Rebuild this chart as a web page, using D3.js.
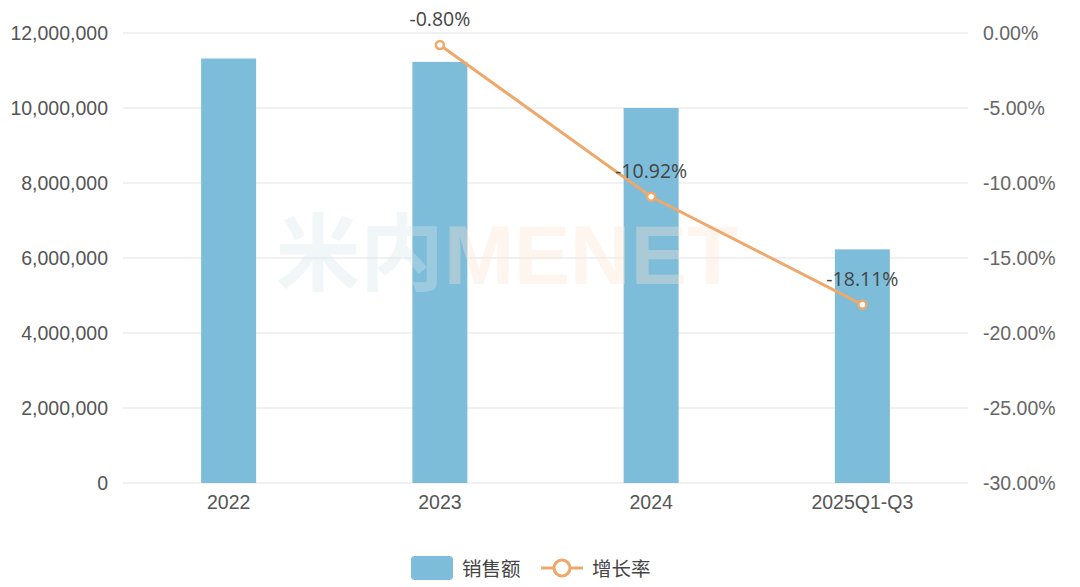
<!DOCTYPE html>
<html>
<head>
<meta charset="utf-8">
<script src="https://cdn.jsdelivr.net/npm/d3@7"></script>
<style>
	body { margin: 0; background: #fff; }
	svg { display: block; font-family: "Open Sans", "Noto Sans", "Noto Sans CJK SC", sans-serif; }
</style>
</head>
<body>
<svg width="1080" height="587"></svg>
<script>
var categories = ["2022", "2023", "2024", "2025Q1-Q3"];
var sales = [11320000, 11230000, 10000000, 6230000];
var growth = [null, -0.80, -10.92, -18.11];
var leftTicks = [0, 2000000, 4000000, 6000000, 8000000, 10000000, 12000000];
var rightTicks = [0, -5, -10, -15, -20, -25, -30];

var svg = d3.select("svg"),
	width = +svg.attr("width"),
	height = +svg.attr("height");

var pLeft = 123, pRight = 968, pTop = 33, pBottom = 483;
var fs = "19.5px";

var x = d3.scaleBand().domain(categories).range([pLeft, pRight]);
var yL = d3.scaleLinear().domain([0, 12000000]).range([pBottom, pTop]);
var yR = d3.scaleLinear().domain([-30, 0]).range([pBottom, pTop]);

var barColor = "#7dbdda",
	lineColor = "#eea86b",
	textColor = "#555";

// grid lines
svg.append("g")
	.selectAll("line")
	.data(leftTicks)
	.enter().append("line")
	.attr("x1", pLeft)
	.attr("x2", pRight)
	.attr("y1", function(d){ return yL(d); })
	.attr("y2", function(d){ return yL(d); })
	.style("stroke", "#ececec")
	.style("stroke-width", 1.5);

// left axis
var axisL = svg.append("g")
	.attr("transform", "translate(" + (pLeft - 15) + ",0)")
	.call(d3.axisLeft(yL).tickValues(leftTicks).tickSize(0).tickPadding(0).tickFormat(d3.format(",")));
axisL.select(".domain").remove();
axisL.selectAll("text")
	.style("font-size", fs)
	.style("fill", textColor)
	.style("font-family", "inherit");

// right axis
var axisR = svg.append("g")
	.attr("transform", "translate(" + (pRight + 15) + ",0)")
	.call(d3.axisRight(yR).tickValues(rightTicks).tickSize(0).tickPadding(0).tickFormat(function(d){ return d.toFixed(2) + "%"; }));
axisR.select(".domain").remove();
axisR.selectAll("text")
	.style("font-size", fs)
	.style("fill", "#666")
	.style("font-family", "inherit");

// bottom axis labels
var axisB = svg.append("g")
	.attr("transform", "translate(0," + pBottom + ")")
	.call(d3.axisBottom(x).tickSize(0).tickPadding(12));
axisB.select(".domain").remove();
axisB.selectAll("text")
	.style("font-size", fs)
	.style("fill", textColor)
	.style("font-family", "inherit");

// bars
var bw = 55;
svg.append("g")
	.selectAll("rect")
	.data(sales)
	.enter().append("rect")
	.attr("x", function(d, i){ return x(categories[i]) + x.bandwidth() / 2 - bw / 2; })
	.attr("y", function(d){ return yL(d); })
	.attr("width", bw)
	.attr("height", function(d){ return pBottom - yL(d); })
	.style("fill", barColor);

// watermark (faint, over the bars)
var wm = svg.append("text")
	.attr("x", 276)
	.attr("y", 284)
	.style("font-size", "84px")
	.style("font-weight", "bold")
	.style("opacity", 0.35)
	.style("font-family", "'Liberation Sans', 'Noto Sans CJK SC', sans-serif");
wm.append("tspan").text("米内").style("fill", "#d8e6ec");
wm.append("tspan").text("MENET").style("fill", "#fbe3d0");

// line
var pts = growth.map(function(d, i){ return {v: d, c: categories[i]}; }).filter(function(d){ return d.v !== null; });
var line = d3.line()
	.x(function(d){ return x(d.c) + x.bandwidth() / 2; })
	.y(function(d){ return yR(d.v); });

svg.append("path")
	.datum(pts)
	.attr("d", line)
	.style("fill", "none")
	.style("stroke", lineColor)
	.style("stroke-width", 3);

svg.append("g")
	.selectAll("circle")
	.data(pts)
	.enter().append("circle")
	.attr("cx", function(d){ return x(d.c) + x.bandwidth() / 2; })
	.attr("cy", function(d){ return yR(d.v); })
	.attr("r", 4)
	.style("fill", "#fff")
	.style("stroke", lineColor)
	.style("stroke-width", 2.5);

svg.append("g")
	.selectAll("text")
	.data(pts)
	.enter().append("text")
	.attr("x", function(d){ return x(d.c) + x.bandwidth() / 2; })
	.attr("y", function(d){ return yR(d.v) - 19; })
	.attr("text-anchor", "middle")
	.style("font-size", fs)
	.style("fill", "#444")
	.text(function(d){ return d.v.toFixed(2) + "%"; });

// legend
var lg = svg.append("g");
lg.append("rect")
	.attr("x", 411).attr("y", 556)
	.attr("width", 42).attr("height", 24)
	.attr("rx", 4)
	.style("fill", barColor);
lg.append("text")
	.attr("x", 462).attr("y", 576)
	.style("font-size", fs)
	.style("fill", "#444")
	.text("销售额");
lg.append("line")
	.attr("x1", 541).attr("x2", 583)
	.attr("y1", 568).attr("y2", 568)
	.style("stroke", lineColor)
	.style("stroke-width", 3);
lg.append("circle")
	.attr("cx", 562).attr("cy", 568).attr("r", 8)
	.style("fill", "#fff")
	.style("stroke", lineColor)
	.style("stroke-width", 3);
lg.append("text")
	.attr("x", 592).attr("y", 576)
	.style("font-size", fs)
	.style("fill", "#444")
	.text("增长率");
</script>
</body>
</html>
